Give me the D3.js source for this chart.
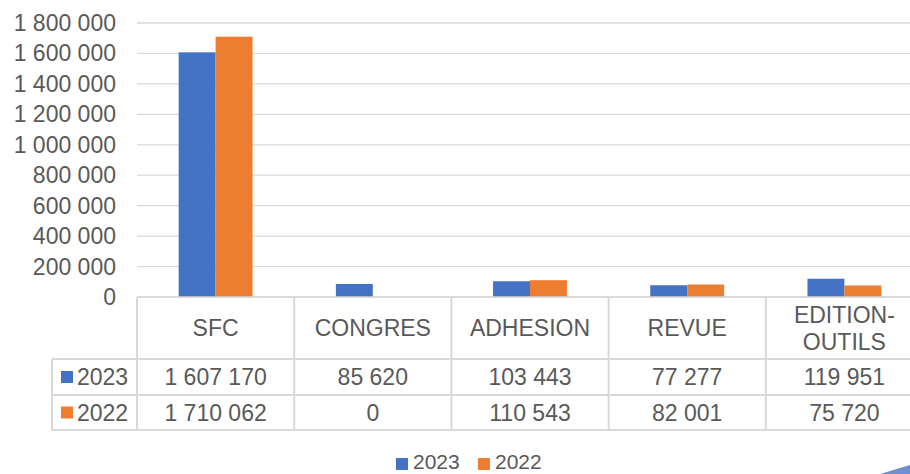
<!DOCTYPE html>
<html>
<head>
<meta charset="utf-8">
<script src="https://cdn.jsdelivr.net/npm/d3@7/dist/d3.min.js"></script>
<style>
  html, body { margin: 0; padding: 0; background: #fff; overflow: hidden; }
  svg { display: block; font-family: "Liberation Sans", Arial, sans-serif; }
</style>
</head>
<body>
<svg id="chart" width="910" height="474"></svg>
<script>
const categories = ["SFC", "CONGRES", "ADHESION", "REVUE", "EDITION-OUTILS"];
const categoryLines = [["SFC"], ["CONGRES"], ["ADHESION"], ["REVUE"], ["EDITION-", "OUTILS"]];
const seriesNames = ["2023", "2022"];
const values2023 = [1607170, 85620, 103443, 77277, 119951];
const values2022 = [1710062, 0, 110543, 82001, 75720];
const yTicks = [0, 200000, 400000, 600000, 800000, 1000000, 1200000, 1400000, 1600000, 1800000];
const colors = ["#4472c4", "#ed7d31"];

const seriesValues = [values2023, values2022];
const fmt = v => d3.format(",")(v).replace(/,/g, " ");

const svg = d3.select("#chart");
const textColor = "#595959";
const gridColor = "#d9d9d9";
const fontSize = 23;

const plotLeft = 137, colW = 157.2;
const plotTop = 23, plotBottom = 297;
const x0 = d3.scaleBand().domain(categories).range([plotLeft, plotLeft + colW * categories.length])
  .paddingInner(0.53).paddingOuter(0.265);
const x1 = d3.scaleBand().domain(seriesNames).range([0, x0.bandwidth()]);
const y = d3.scaleLinear().domain([0, 1800000]).range([plotBottom, plotTop]);

// gridlines
svg.append("g").selectAll("line").data(yTicks).join("line")
  .attr("x1", plotLeft).attr("x2", 910)
  .attr("y1", d => y(d)).attr("y2", d => y(d))
  .attr("stroke", gridColor).attr("stroke-width", 1.3);

// y labels
svg.append("g").selectAll("text").data(yTicks).join("text")
  .attr("x", 116).attr("y", d => y(d)).attr("dy", "0.35em")
  .attr("text-anchor", "end").attr("fill", textColor).attr("font-size", fontSize)
  .text(d => fmt(d));

// bars
const groups = svg.append("g").selectAll("g").data(categories).join("g")
  .attr("transform", d => `translate(${x0(d)},0)`);
groups.selectAll("rect").data((d, i) => seriesNames.map((s, j) => ({ s, v: seriesValues[j][i], j })))
  .join("rect")
  .attr("x", d => x1(d.s)).attr("width", x1.bandwidth())
  .attr("y", d => y(d.v)).attr("height", d => y(0) - y(d.v))
  .attr("fill", d => colors[d.j]);

// table
const rowTops = [297, 359, 395, 430];
const tableLeft = 52;
const tableRight = plotLeft + colW * categories.length;
const tg = svg.append("g");
tg.append("line").attr("x1", plotLeft).attr("x2", tableRight).attr("y1", rowTops[0]).attr("y2", rowTops[0])
  .attr("stroke", gridColor).attr("stroke-width", 1.3);
[1, 2, 3].forEach(i => {
  tg.append("line").attr("x1", tableLeft).attr("x2", tableRight).attr("y1", rowTops[i]).attr("y2", rowTops[i])
    .attr("stroke", gridColor).attr("stroke-width", 2);
});
d3.range(categories.length + 1).forEach(i => {
  const xx = plotLeft + colW * i;
  tg.append("line").attr("x1", xx).attr("x2", xx).attr("y1", rowTops[0]).attr("y2", rowTops[3])
    .attr("stroke", gridColor).attr("stroke-width", 2);
});
tg.append("line").attr("x1", tableLeft).attr("x2", tableLeft).attr("y1", rowTops[1]).attr("y2", rowTops[3])
  .attr("stroke", gridColor).attr("stroke-width", 2);

// header text
categoryLines.forEach((lines, i) => {
  const cx = x0(categories[i]) + x0.bandwidth() / 2;
  const cy = (rowTops[0] + rowTops[1]) / 2;
  const lh = 27;
  lines.forEach((ln, k) => {
    tg.append("text").attr("x", cx).attr("y", cy + (k - (lines.length - 1) / 2) * lh)
      .attr("dy", "0.35em").attr("text-anchor", "middle")
      .attr("fill", textColor).attr("font-size", fontSize).text(ln);
  });
});

// rows
seriesNames.forEach((s, j) => {
  const cy = (rowTops[j + 1] + rowTops[j + 2]) / 2;
  tg.append("rect").attr("x", 61).attr("y", cy - 6).attr("width", 12).attr("height", 12).attr("fill", colors[j]);
  tg.append("text").attr("x", 77).attr("y", cy).attr("dy", "0.35em")
    .attr("fill", textColor).attr("font-size", fontSize).text(s);
  categories.forEach((c, i) => {
    tg.append("text").attr("x", x0(c) + x0.bandwidth() / 2).attr("y", cy).attr("dy", "0.35em")
      .attr("text-anchor", "middle").attr("fill", textColor).attr("font-size", fontSize)
      .text(fmt(seriesValues[j][i]));
  });
});

// legend
const legendX = [396, 478];
seriesNames.forEach((s, j) => {
  svg.append("rect").attr("x", legendX[j]).attr("y", 458).attr("width", 12).attr("height", 12).attr("fill", colors[j]);
  svg.append("text").attr("x", legendX[j] + 17).attr("y", 469)
    .attr("fill", textColor).attr("font-size", 21).text(s);
});

// decorative corner wedge
svg.append("path").attr("d", "M880,474 L910,465 L910,474 Z").attr("fill", "#6f8fd0");
</script>
</body>
</html>
